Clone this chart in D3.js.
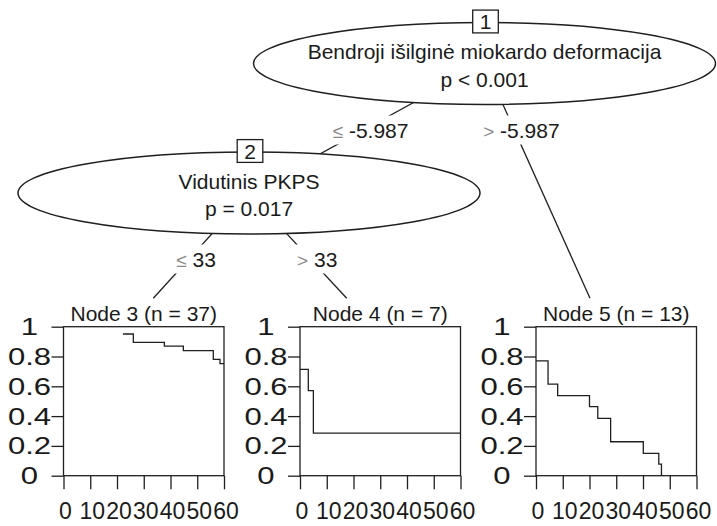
<!DOCTYPE html>
<html>
<head>
<meta charset="utf-8">
<script src="https://cdn.jsdelivr.net/npm/d3@7"></script>
<style>
  html, body { margin: 0; padding: 0; background: #fff; }
  svg { display: block; }
  text { font-family: "Liberation Sans", Arial, sans-serif; fill: #1a1a1a; }
</style>
</head>
<body>
<svg id="chart" width="717" height="526"></svg>
<script>
// ---- tree structure ----
const innerIds = [1, 2];
const innerVariables = ["Bendroji išilginė miokardo deformacija", "Vidutinis PKPS"];
const innerPValues = ["p < 0.001", "p = 0.017"];

const edgeFrom = [1, 1, 2, 2];
const edgeTo = [2, 5, 3, 4];
const edgeOps = ["≤", ">", "≤", ">"];
const edgeSplits = ["-5.987", "-5.987", "33", "33"];

const terminalIds = [3, 4, 5];
const terminalN = [37, 7, 13];

// ---- Kaplan–Meier step curves (time in months, survival probability) ----
const node3Time = [22.2, 26.1, 37.7, 44.8, 56.0, 58.5, 60];
const node3Surv = [0.951, 0.895, 0.870, 0.839, 0.781, 0.752, 0.752];
const node4Time = [0, 3.1, 5.0, 60];
const node4Surv = [0.714, 0.571, 0.286, 0.286];
const node5Time = [0, 4.5, 8.1, 20.0, 23.1, 27.9, 40.1, 45.9, 46.9];
const node5Surv = [0.770, 0.615, 0.537, 0.463, 0.385, 0.228, 0.150, 0.078, 0];

const xTickValues = [0, 10, 20, 30, 40, 50, 60];
const yTickValues = [0, 0.2, 0.4, 0.6, 0.8, 1];
const yTickLabels = ["0", "0.2", "0.4", "0.6", "0.8", "1"];

// ---- layout ----
const layout = {
  nodeX: { 1: 484.5, 2: 249, 3: 153.3, 4: 346.7, 5: 590 },
  nodeY: { 1: 63.5, 2: 193, 3: 298.3, 4: 298.3, 5: 298.3 },
  ellipseRx: 231, ellipseRy: 41,
  labelY: { 1: 130, 2: 259 },
  panelLeft: { 3: 63.5, 4: 300, 5: 536 },
  panelWidth: 160.5,
  panelTop: 326.7, panelBottom: 475.7
};

const curves = { 3: [node3Time, node3Surv], 4: [node4Time, node4Surv], 5: [node5Time, node5Surv] };

const svg = d3.select("#chart");
const ink = "#1f1f1f";
const gEdges = svg.append("g");
const gLabels = svg.append("g");
const gNodes = svg.append("g");
const gPanels = svg.append("g");

// edges: centre to centre, later covered by the white node shapes
edgeFrom.forEach((from, i) => {
  const to = edgeTo[i];
  const x1 = layout.nodeX[from], y1 = layout.nodeY[from];
  const x2 = layout.nodeX[to], y2 = layout.nodeY[to];
  gEdges.append("line")
    .attr("x1", x1).attr("y1", y1).attr("x2", x2).attr("y2", y2)
    .attr("stroke", ink).attr("stroke-width", 1.3);

  // split label with white background on the edge
  const ly = layout.labelY[from];
  const lx = x1 + (x2 - x1) * (ly - y1) / (y2 - y1) + 7;
  const lab = gLabels.append("g");
  const rect = lab.append("rect").attr("fill", "#fff");
  const t = lab.append("text")
    .attr("x", lx).attr("y", ly).attr("dy", "0.36em")
    .attr("text-anchor", "middle").attr("font-size", 21);
  t.append("tspan").attr("fill", "#8a8a8a").attr("font-size", 19).text(edgeOps[i]);
  t.append("tspan").text(" " + edgeSplits[i]);
  const bb = t.node().getBBox();
  rect.attr("x", bb.x - 2).attr("width", bb.width + 4)
    .attr("y", ly - 14.5).attr("height", 29);
});

// inner nodes: ellipse, id box, variable name and p-value
innerIds.forEach((id, i) => {
  const cx = layout.nodeX[id], cy = layout.nodeY[id];
  const g = gNodes.append("g");
  g.append("ellipse")
    .attr("cx", cx).attr("cy", cy)
    .attr("rx", layout.ellipseRx).attr("ry", layout.ellipseRy)
    .attr("fill", "#fff").attr("stroke", ink).attr("stroke-width", 1.5);
  g.append("text").attr("x", cx).attr("y", cy - 4.5)
    .attr("text-anchor", "middle").attr("font-size", 21)
    .text(innerVariables[i]);
  g.append("text").attr("x", cx).attr("y", cy + 23)
    .attr("text-anchor", "middle").attr("font-size", 21)
    .text(innerPValues[i]);
  const bx = cx + 1, by = cy - layout.ellipseRy - 1;
  g.append("rect")
    .attr("x", bx - 12.8).attr("y", by - 11.4)
    .attr("width", 25.6).attr("height", 22.8)
    .attr("fill", "#fff").attr("stroke", ink).attr("stroke-width", 1.3);
  g.append("text").attr("x", bx).attr("y", by).attr("dy", "0.36em")
    .attr("text-anchor", "middle").attr("font-size", 21)
    .text(id);
});

// terminal nodes: survival panels
terminalIds.forEach((id, i) => {
  const left = layout.panelLeft[id];
  const x = d3.scaleLinear().domain([0, 60]).range([left, left + layout.panelWidth]);
  const y = d3.scaleLinear().domain([0, 1]).range([layout.panelBottom, layout.panelTop]);
  const g = gPanels.append("g");

  g.append("text")
    .attr("x", (x.range()[0] + x.range()[1]) / 2).attr("y", 320.7)
    .attr("text-anchor", "middle").attr("font-size", 21)
    .text(`Node ${id} (n = ${terminalN[i]})`);

  // y axis
  const ya = g.append("g").attr("transform", `translate(${left},0)`)
    .call(d3.axisLeft(y).tickValues(yTickValues).tickSize(12).tickFormat((d, k) => yTickLabels[k]));
  ya.select(".domain").remove();
  ya.selectAll(".tick line").attr("stroke", ink).attr("stroke-width", 1.3);
  ya.selectAll(".tick text")
    .attr("x", null).attr("dy", null)
    .attr("text-anchor", "middle").attr("dominant-baseline", "central")
    .attr("font-size", 23).attr("fill", "#1a1a1a")
    .attr("font-family", "Liberation Sans, Arial, sans-serif")
    .attr("transform", "translate(-34,0) scale(1.35,1)");

  // x axis
  const xa = g.append("g").attr("transform", `translate(0,${layout.panelBottom})`)
    .call(d3.axisBottom(x).tickValues(xTickValues).tickSize(13.6).tickFormat(d3.format("d")));
  xa.select(".domain").remove();
  xa.selectAll(".tick line").attr("stroke", ink).attr("stroke-width", 1.3);
  xa.selectAll(".tick text")
    .attr("y", 43).attr("dy", null).attr("x", 1.5)
    .attr("font-size", 23).attr("fill", "#1a1a1a")
    .attr("font-family", "Liberation Sans, Arial, sans-serif");

  // frame
  g.append("rect")
    .attr("x", x(0)).attr("y", y(1))
    .attr("width", x(60) - x(0)).attr("height", y(0) - y(1))
    .attr("fill", "none").attr("stroke", ink).attr("stroke-width", 1.3);

  // KM curve
  const [times, surv] = curves[id];
  const pts = times.map((t, k) => [t, surv[k]]);
  const line = d3.line().x(d => x(d[0])).y(d => y(d[1])).curve(d3.curveStepAfter);
  g.append("path").attr("d", line(pts))
    .attr("fill", "none").attr("stroke", ink).attr("stroke-width", 1.3);
});
</script>
</body>
</html>
